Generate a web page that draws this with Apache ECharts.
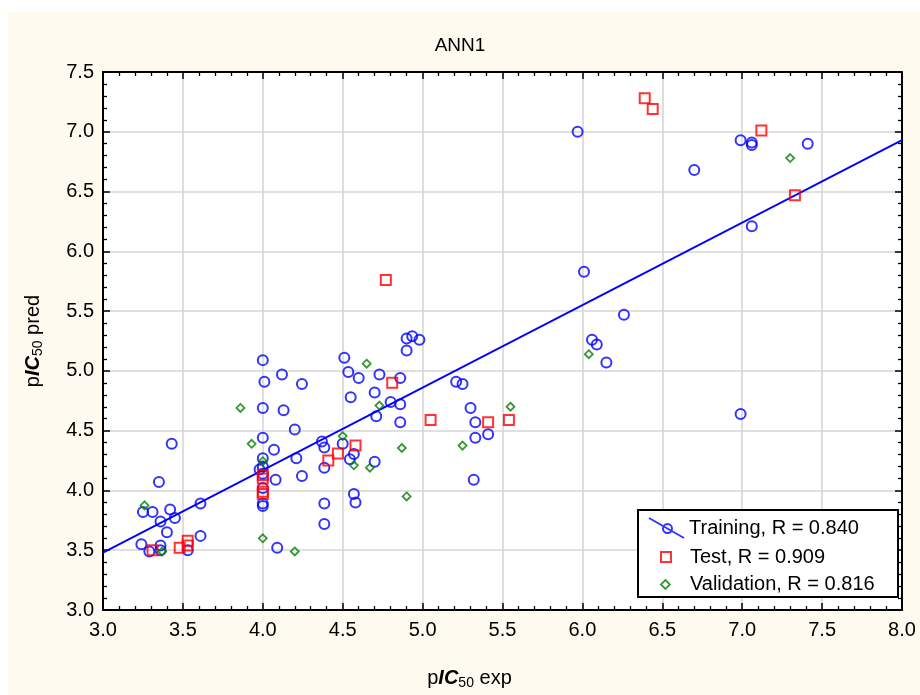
<!DOCTYPE html>
<html>
<head>
<meta charset="utf-8">
<script src="https://cdn.jsdelivr.net/npm/echarts@6/dist/echarts.min.js"></script>
<style>
html,body{margin:0;padding:0;background:#fff;}
#chart{width:920px;height:695px;}
</style>
</head>
<body>
<div id="chart"></div>
<script>
// ---- data ----
const trainX = [3.24,3.29,3.25,3.31,3.35,3.36,3.36,3.36,3.40,3.42,3.43,3.45,3.53,3.61,3.61,
  3.98,4.00,4.01,4.00,4.00,4.00,4.00,4.00,4.00,4.00,4.00,4.07,4.08,4.09,4.12,4.13,4.20,4.21,4.245,4.245,
  4.37,4.385,4.385,4.385,4.385,4.50,4.51,4.535,4.55,4.545,4.57,4.57,4.58,4.60,4.70,4.70,4.71,4.73,4.80,
  4.86,4.86,4.86,4.90,4.90,4.935,4.98,5.21,5.25,5.30,5.33,5.33,5.41,5.32,
  5.97,6.01,6.06,6.09,6.15,6.26,6.70,6.99,7.06,7.06,7.06,6.99,7.41];
const trainY = [3.55,3.49,3.82,3.82,4.07,3.74,3.54,3.50,3.65,3.84,4.39,3.77,3.50,3.89,3.62,
  4.175,5.09,4.91,4.69,4.44,4.27,4.20,4.14,4.02,3.89,3.87,4.34,4.09,3.52,4.97,4.67,4.51,4.27,4.89,4.12,
  4.41,4.36,4.19,3.89,3.72,4.39,5.11,4.99,4.78,4.26,4.305,3.97,3.90,4.94,4.82,4.24,4.62,4.97,4.74,
  4.94,4.72,4.57,5.27,5.17,5.29,5.26,4.91,4.89,4.69,4.57,4.44,4.47,4.09,
  7.00,5.83,5.26,5.22,5.07,5.47,6.68,6.93,6.91,6.89,6.21,4.64,6.90];
const testX = [3.31,3.48,3.53,3.53,4.00,4.00,4.00,4.00,4.41,4.47,4.58,4.77,4.81,5.05,5.41,5.54,6.39,6.44,7.12,7.33];
const testY = [3.50,3.52,3.58,3.54,4.13,4.10,3.99,3.97,4.25,4.31,4.375,5.76,4.90,4.59,4.57,4.59,7.28,7.19,7.01,6.47];
const valX = [3.26,3.37,3.86,3.93,4.00,4.00,4.20,4.50,4.57,4.65,4.67,4.73,4.87,4.90,5.25,5.55,6.04,7.30];
const valY = [3.875,3.49,4.69,4.39,4.245,3.60,3.49,4.455,4.21,5.06,4.19,4.71,4.355,3.95,4.375,4.70,5.14,6.78];
const fitX = [3.0, 8.0];
const fitY = [3.48, 6.93];
const seriesNames = ['Training, R = 0.840', 'Test, R = 0.909', 'Validation, R = 0.816'];
const titleText = 'ANN1';
const xTicks = {min: 3.0, max: 8.0, interval: 0.5};
const yTicks = {min: 3.0, max: 7.5, interval: 0.5};

const zip = (a, b) => a.map((v, i) => [v, b[i]]);
const FONT = '"Liberation Sans", Arial, sans-serif';
const BLUE = '#0000ff', RED = '#ff0000', GREEN = '#008000';

const nameRich = {
  n: {fontSize: 20, fontFamily: FONT, color: '#000'},
  b: {fontSize: 20, fontFamily: FONT, color: '#000', fontWeight: 'bold', fontStyle: 'italic'},
  s: {fontSize: 14, fontFamily: FONT, color: '#000', padding: [9, 0, 0, 0]}
};

function axisCommon(ticks) {
  return {
    type: 'value', min: ticks.min, max: ticks.max, interval: ticks.interval,
    axisLine: {show: true, onZero: false, lineStyle: {color: '#000', width: 2}},
    axisTick: {show: true, inside: true, length: 7, lineStyle: {color: '#000', width: 1.5}},
    minorTick: {show: true, splitNumber: 5, length: 4, lineStyle: {color: '#000', width: 1.3}},
    minorSplitLine: {show: false}
  };
}

const legendText = {fontFamily: FONT, fontSize: 20, color: '#000'};

const chart = echarts.init(document.getElementById('chart'), null, {renderer: 'canvas'});
const option = {
  backgroundColor: '#ffffff',
  animation: false,
  title: {
    text: titleText, left: 'center', top: 31,
    textStyle: {fontFamily: FONT, fontSize: 19, fontWeight: 'normal', color: '#000'}
  },
  graphic: [
    {type: 'rect', z: -1, shape: {x: 8, y: 12, width: 912, height: 683}, style: {fill: '#fefaf0'}},
    {type: 'rect', z: 10, shape: {x: 638, y: 510, width: 260, height: 87}, style: {fill: '#fff', stroke: '#000', lineWidth: 2}}
  ],
  grid: {left: 103, right: 18, top: 72, bottom: 82, show: true, backgroundColor: '#fff', borderWidth: 0},
  xAxis: [
    Object.assign(axisCommon(xTicks), {
      position: 'bottom',
      axisLabel: {fontFamily: FONT, fontSize: 20, color: '#000', margin: 10, formatter: v => v.toFixed(1)},
      splitLine: {show: true, lineStyle: {color: '#d6d6d6', width: 1.6}},
      name: '{n|p}{b|IC}{s|50}{n| exp}', nameLocation: 'middle', nameGap: 57,
      nameTextStyle: {rich: nameRich, padding: [0, 66, 0, 0]}
    }),
    Object.assign(axisCommon(xTicks), {
      position: 'top', axisLabel: {show: false}, splitLine: {show: false}
    })
  ],
  yAxis: [
    Object.assign(axisCommon(yTicks), {
      position: 'left',
      axisLabel: {fontFamily: FONT, fontSize: 20, color: '#000', margin: 9, formatter: v => v.toFixed(1)},
      splitLine: {show: true, lineStyle: {color: '#d6d6d6', width: 1.6}},
      name: '{n|p}{b|IC}{s|50}{n| pred}', nameLocation: 'middle', nameGap: 58, nameRotate: 90,
      nameTextStyle: {rich: nameRich}
    }),
    Object.assign(axisCommon(yTicks), {
      position: 'right', axisLabel: {show: false}, splitLine: {show: false}
    })
  ],
  legend: [
    {
      data: [{name: seriesNames[0],
        icon: 'path://M0,0L35,20M23,10.6A4.5,4.5,0,1,1,14,10.6A4.5,4.5,0,1,1,23,10.6Z'}],
      left: 648, top: 517, padding: 0, itemWidth: 35, itemHeight: 20,
      itemStyle: {color: 'rgba(0,0,0,0)', borderColor: BLUE, borderWidth: 2},
      textStyle: legendText, selectedMode: false, z: 20
    },
    {
      data: [{name: seriesNames[1], icon: 'rect'}],
      left: 660, top: 547, padding: 0, itemWidth: 10, itemHeight: 10,
      itemStyle: {color: 'rgba(0,0,0,0)', borderColor: RED, borderWidth: 2},
      textStyle: Object.assign({padding: [0, 0, 0, 14]}, legendText), selectedMode: false, z: 20
    },
    {
      data: [{name: seriesNames[2], icon: 'diamond'}],
      left: 660, top: 574.5, padding: 0, itemWidth: 9, itemHeight: 9,
      itemStyle: {color: 'rgba(0,0,0,0)', borderColor: GREEN, borderWidth: 1.8},
      textStyle: Object.assign({padding: [0, 0, 0, 15]}, legendText), selectedMode: false, z: 20
    }
  ],
  series: [
    {
      name: 'fit', type: 'line', data: zip(fitX, fitY), showSymbol: false, symbol: 'none',
      lineStyle: {color: BLUE, width: 1.8}, silent: true, z: 2
    },
    {
      name: seriesNames[0], type: 'scatter', data: zip(trainX, trainY), symbol: 'circle', symbolSize: 10,
      itemStyle: {color: 'rgba(0,0,0,0)', borderColor: BLUE, borderWidth: 2}, z: 3
    },
    {
      name: seriesNames[1], type: 'scatter', data: zip(testX, testY), symbol: 'rect', symbolSize: 10,
      itemStyle: {color: 'rgba(0,0,0,0)', borderColor: RED, borderWidth: 2}, z: 4
    },
    {
      name: seriesNames[2], type: 'scatter', data: zip(valX, valY), symbol: 'diamond', symbolSize: 8,
      itemStyle: {color: 'rgba(0,0,0,0)', borderColor: GREEN, borderWidth: 1.8}, z: 5
    }
  ]
};
chart.setOption(option);
</script>
</body>
</html>
